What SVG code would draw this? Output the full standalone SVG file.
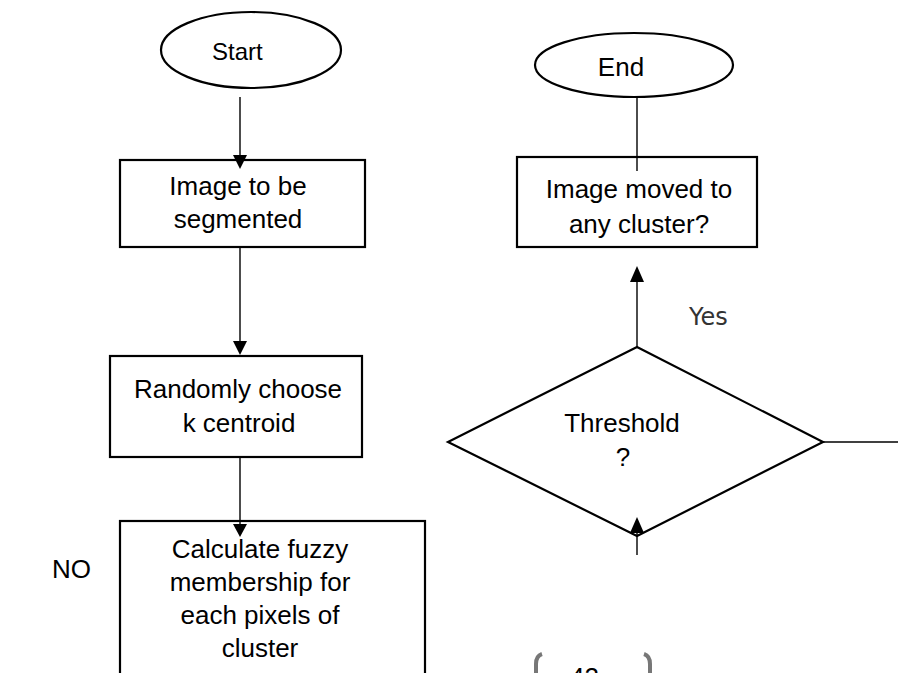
<svg xmlns="http://www.w3.org/2000/svg" width="898" height="673" viewBox="0 0 898 673">
<style>
.shape{fill:#fff;stroke:#000;stroke-width:2.2}
.conn{stroke:#000;stroke-width:1.4;fill:none}
.head{fill:#000}
.t{font-family:"Liberation Sans",Arial,sans-serif;font-size:26px;fill:#000}
.m{text-anchor:middle}
</style>
<rect width="898" height="673" fill="#fff"/>
<g id="start"><ellipse class="shape" cx="251" cy="50" rx="90" ry="38"/><text class="t" x="212" y="60" style="font-size:24px">Start</text></g>
<g id="image-to-be-segmented"><rect class="shape" x="120" y="160" width="245" height="87"/><text class="t m" x="238" y="195">Image to be</text><text class="t m" x="238" y="228">segmented</text></g>
<g id="randomly-choose"><rect class="shape" x="110" y="356" width="252" height="101"/><text class="t m" x="238" y="398">Randomly choose</text><text class="t m" x="239" y="432">k centroid</text></g>
<g id="calculate"><rect class="shape" x="120" y="521" width="305" height="170"/><text class="t m" x="260" y="558">Calculate fuzzy</text><text class="t m" x="260" y="591">membership for</text><text class="t m" x="260" y="624">each pixels of</text><text class="t m" x="260" y="657">cluster</text></g>
<g id="end"><ellipse class="shape" cx="634" cy="65" rx="99" ry="32"/><text class="t m" x="621" y="76">End</text></g>
<g id="image-moved"><rect class="shape" x="517" y="157" width="240" height="90"/><text class="t m" x="639" y="198">Image moved to</text><text class="t m" x="639" y="233">any cluster?</text></g>
<g id="threshold"><polygon class="shape" points="637,347 823,442 637,536 448,442"/><text class="t m" x="622" y="432">Threshold</text><text class="t m" x="623" y="466">?</text></g>
<g id="connectors">
<line class="conn" x1="240" y1="97" x2="240" y2="156"/><polygon class="head" points="233,155 247,155 240,169"/>
<line class="conn" x1="240" y1="248" x2="240" y2="341"/><polygon class="head" points="233,341 247,341 240,355"/>
<line class="conn" x1="240" y1="458" x2="240" y2="526"/><polygon class="head" points="233,524 247,524 240,537"/>
<line class="conn" x1="637" y1="97" x2="637" y2="171"/>
<line class="conn" x1="637" y1="347" x2="637" y2="281"/><polygon class="head" points="630,282 644,282 637,266"/>
<line class="conn" x1="637" y1="555" x2="637" y2="533"/><polygon class="head" points="630,533 644,533 637,517"/>
<line class="conn" x1="823" y1="442" x2="898" y2="442"/>
</g>
<text x="689" y="325" style="font-family:'DejaVu Sans',Verdana,sans-serif;font-size:24px;fill:#333">Yes</text>
<text class="t" x="52" y="578">NO</text>
<g id="page-number">
<path d="M542,654 Q536,656 536,664 L536,680" fill="none" stroke="#777" stroke-width="4"/>
<path d="M644,654 Q650,656 650,664 L650,680" fill="none" stroke="#777" stroke-width="4"/>
<text class="t" x="570" y="686">42</text>
</g>
</svg>
